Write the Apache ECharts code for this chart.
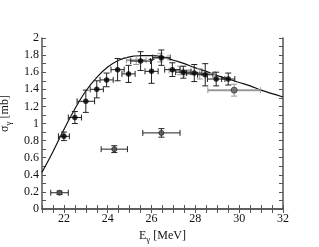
<!DOCTYPE html>
<html><head><meta charset="utf-8">
<script src="https://cdn.jsdelivr.net/npm/echarts@6/dist/echarts.min.js"></script>
<style>html,body{margin:0;padding:0;background:#fff}#c{width:319px;height:247px}</style>
</head><body><div id="c"></div>
<script>
// black data: energy, sigma, x-error, y-error
var blackE    = [22.0, 22.5, 23.0, 23.5, 23.95, 24.45, 24.95, 25.5, 26.0, 26.45, 26.95, 27.45, 27.95, 28.45, 28.95, 29.5];
var blackS    = [0.85, 1.07, 1.26, 1.40, 1.51, 1.63, 1.58, 1.73, 1.61, 1.77, 1.63, 1.60, 1.59, 1.57, 1.52, 1.52];
var blackXErr = [0.25, 0.3, 0.4, 0.3, 0.3, 0.3, 0.3, 0.45, 0.3, 0.4, 0.35, 0.35, 0.35, 0.35, 0.4, 0.3];
var blackYErr = [0.05, 0.07, 0.13, 0.1, 0.08, 0.13, 0.1, 0.11, 0.14, 0.09, 0.08, 0.07, 0.1, 0.13, 0.08, 0.07];
// grey data
var greyE    = [25.3, 26.4, 27.3, 28.2, 29.77];
var greyS    = [1.74, 1.77, 1.62, 1.58, 1.39];
var greyXErr = [0.45, 0.35, 0.5, 0.7, 1.2];
var greyYErr = [0.05, 0.05, 0.05, 0.06, 0.07];
// low points
var lowE    = [21.8, 24.3, 26.45];
var lowS    = [0.19, 0.70, 0.89];
var lowXErr = [0.4, 0.6, 0.85];
var lowYErr = [0.02, 0.04, 0.05];
// fit curve
var curveE = [21, 21.5, 22, 22.5, 23, 23.5, 24, 24.5, 25, 25.5, 26, 26.5, 27, 27.5, 28, 28.5, 29, 29.5, 30, 30.5, 31, 31.5, 32];
var curveS = [0.43, 0.67, 0.93, 1.17, 1.38, 1.54, 1.66, 1.74, 1.78, 1.795, 1.795, 1.78, 1.74, 1.70, 1.65, 1.61, 1.56, 1.52, 1.48, 1.44, 1.39, 1.35, 1.31];
var xLabels = [22, 24, 26, 28, 30, 32];

function zip4(a,b,c,d){return a.map(function(v,i){return [v,b[i],c[i],d[i]];});}
function errRender(color, xw, yw){
  return function(params, api){
    var x=api.value(0), y=api.value(1), dx=api.value(2), dy=api.value(3);
    var L=api.coord([x-dx,y]), R=api.coord([x+dx,y]), T=api.coord([x,y+dy]), B=api.coord([x,y-dy]);
    var c=3, st={stroke:color,lineWidth:1};
    return {type:'group',children:[
      {type:'line',shape:{x1:L[0],y1:L[1],x2:R[0],y2:R[1]},style:{stroke:color,lineWidth:xw}},
      {type:'line',shape:{x1:L[0],y1:L[1]-c,x2:L[0],y2:L[1]+c},style:st},
      {type:'line',shape:{x1:R[0],y1:R[1]-c,x2:R[0],y2:R[1]+c},style:st},
      {type:'line',shape:{x1:T[0],y1:T[1],x2:B[0],y2:B[1]},style:{stroke:color,lineWidth:yw}},
      {type:'line',shape:{x1:T[0]-c,y1:T[1],x2:T[0]+c,y2:T[1]},style:st},
      {type:'line',shape:{x1:B[0]-c,y1:B[1],x2:B[0]+c,y2:B[1]},style:st}
    ]};
  };
}
var font='Liberation Serif';
var lineSt={color:'#555',width:1.5};
var tickSt={color:'#555',width:1};
function xAx(pos, labels){
  return {type:'value',min:21,max:32,interval:0.5,position:pos,
    axisLine:{show:true,lineStyle:lineSt},
    axisTick:{show:true,inside:true,length:4,lineStyle:tickSt},
    splitLine:{show:false},
    axisLabel:labels?{fontFamily:font,fontSize:12,color:'#111',margin:4,
      formatter:function(v){return xLabels.indexOf(v)>=0?String(v):'';}}:{show:false},
    name:labels?'{a|E}{s|γ}{a| [MeV]}':'',nameLocation:'middle',nameGap:18,
    nameTextStyle:{rich:{a:{fontFamily:font,fontSize:12,color:'#111'},s:{fontFamily:font,fontSize:9,color:'#111',padding:[8,0,0,0]}}}
  };
}
function yAx(pos, labels){
  return {type:'value',min:0,max:2,interval:0.1,position:pos,
    axisLine:{show:true,lineStyle:lineSt},
    axisTick:{show:true,inside:true,length:4,lineStyle:tickSt},
    splitLine:{show:false},
    axisLabel:labels?{fontFamily:font,fontSize:12,color:'#111',margin:3,
      formatter:function(v){var k=Math.round(v*10);return k%2===0?String(k/10):'';}}:{show:false},
    name:labels?'{a|σ}{s|γ}{a| [mb]}':'',nameLocation:'middle',nameGap:27,nameRotate:90,
    nameTextStyle:{padding:[0,0,0,20],rich:{a:{fontFamily:font,fontSize:12,color:'#111'},s:{fontFamily:font,fontSize:9,color:'#111',padding:[8,0,0,0]}}}
  };
}
var chart=echarts.init(document.getElementById('c'));
chart.setOption({
  animation:false,
  grid:{left:42,right:36,top:38,bottom:38,containLabel:false,outerBoundsMode:'none'},
  xAxis:[xAx('bottom',true), xAx('top',false)],
  yAxis:[yAx('left',true), yAx('right',false)],
  series:[
    {type:'line',data:curveE.map(function(e,i){return [e,curveS[i]];}),smooth:0.4,symbol:'none',
      lineStyle:{color:'#111',width:1.2},z:2},
    {type:'custom',renderItem:errRender('#999',2,1),data:zip4(greyE,greyS,greyXErr,greyYErr),z:3},
    {type:'scatter',data:greyE.map(function(e,i){return [e,greyS[i]];}).slice(4),symbol:'circle',symbolSize:6,
      itemStyle:{color:'#666',borderColor:'#333',borderWidth:1},z:4},
    {type:'custom',renderItem:errRender('#222',1,1),data:zip4(blackE,blackS,blackXErr,blackYErr),z:5},
    {type:'scatter',data:blackE.map(function(e,i){return [e,blackS[i]];}),symbol:'circle',symbolSize:5.5,
      itemStyle:{color:'#000'},z:6},
    {type:'custom',renderItem:errRender('#222',1,1),data:zip4(lowE,lowS,lowXErr,lowYErr),z:5},
    {type:'scatter',data:lowE.map(function(e,i){return [e,lowS[i]];}),symbol:'circle',symbolSize:5,
      itemStyle:{color:'#555',borderColor:'#222',borderWidth:1},z:6}
  ]
});
</script></body></html>
